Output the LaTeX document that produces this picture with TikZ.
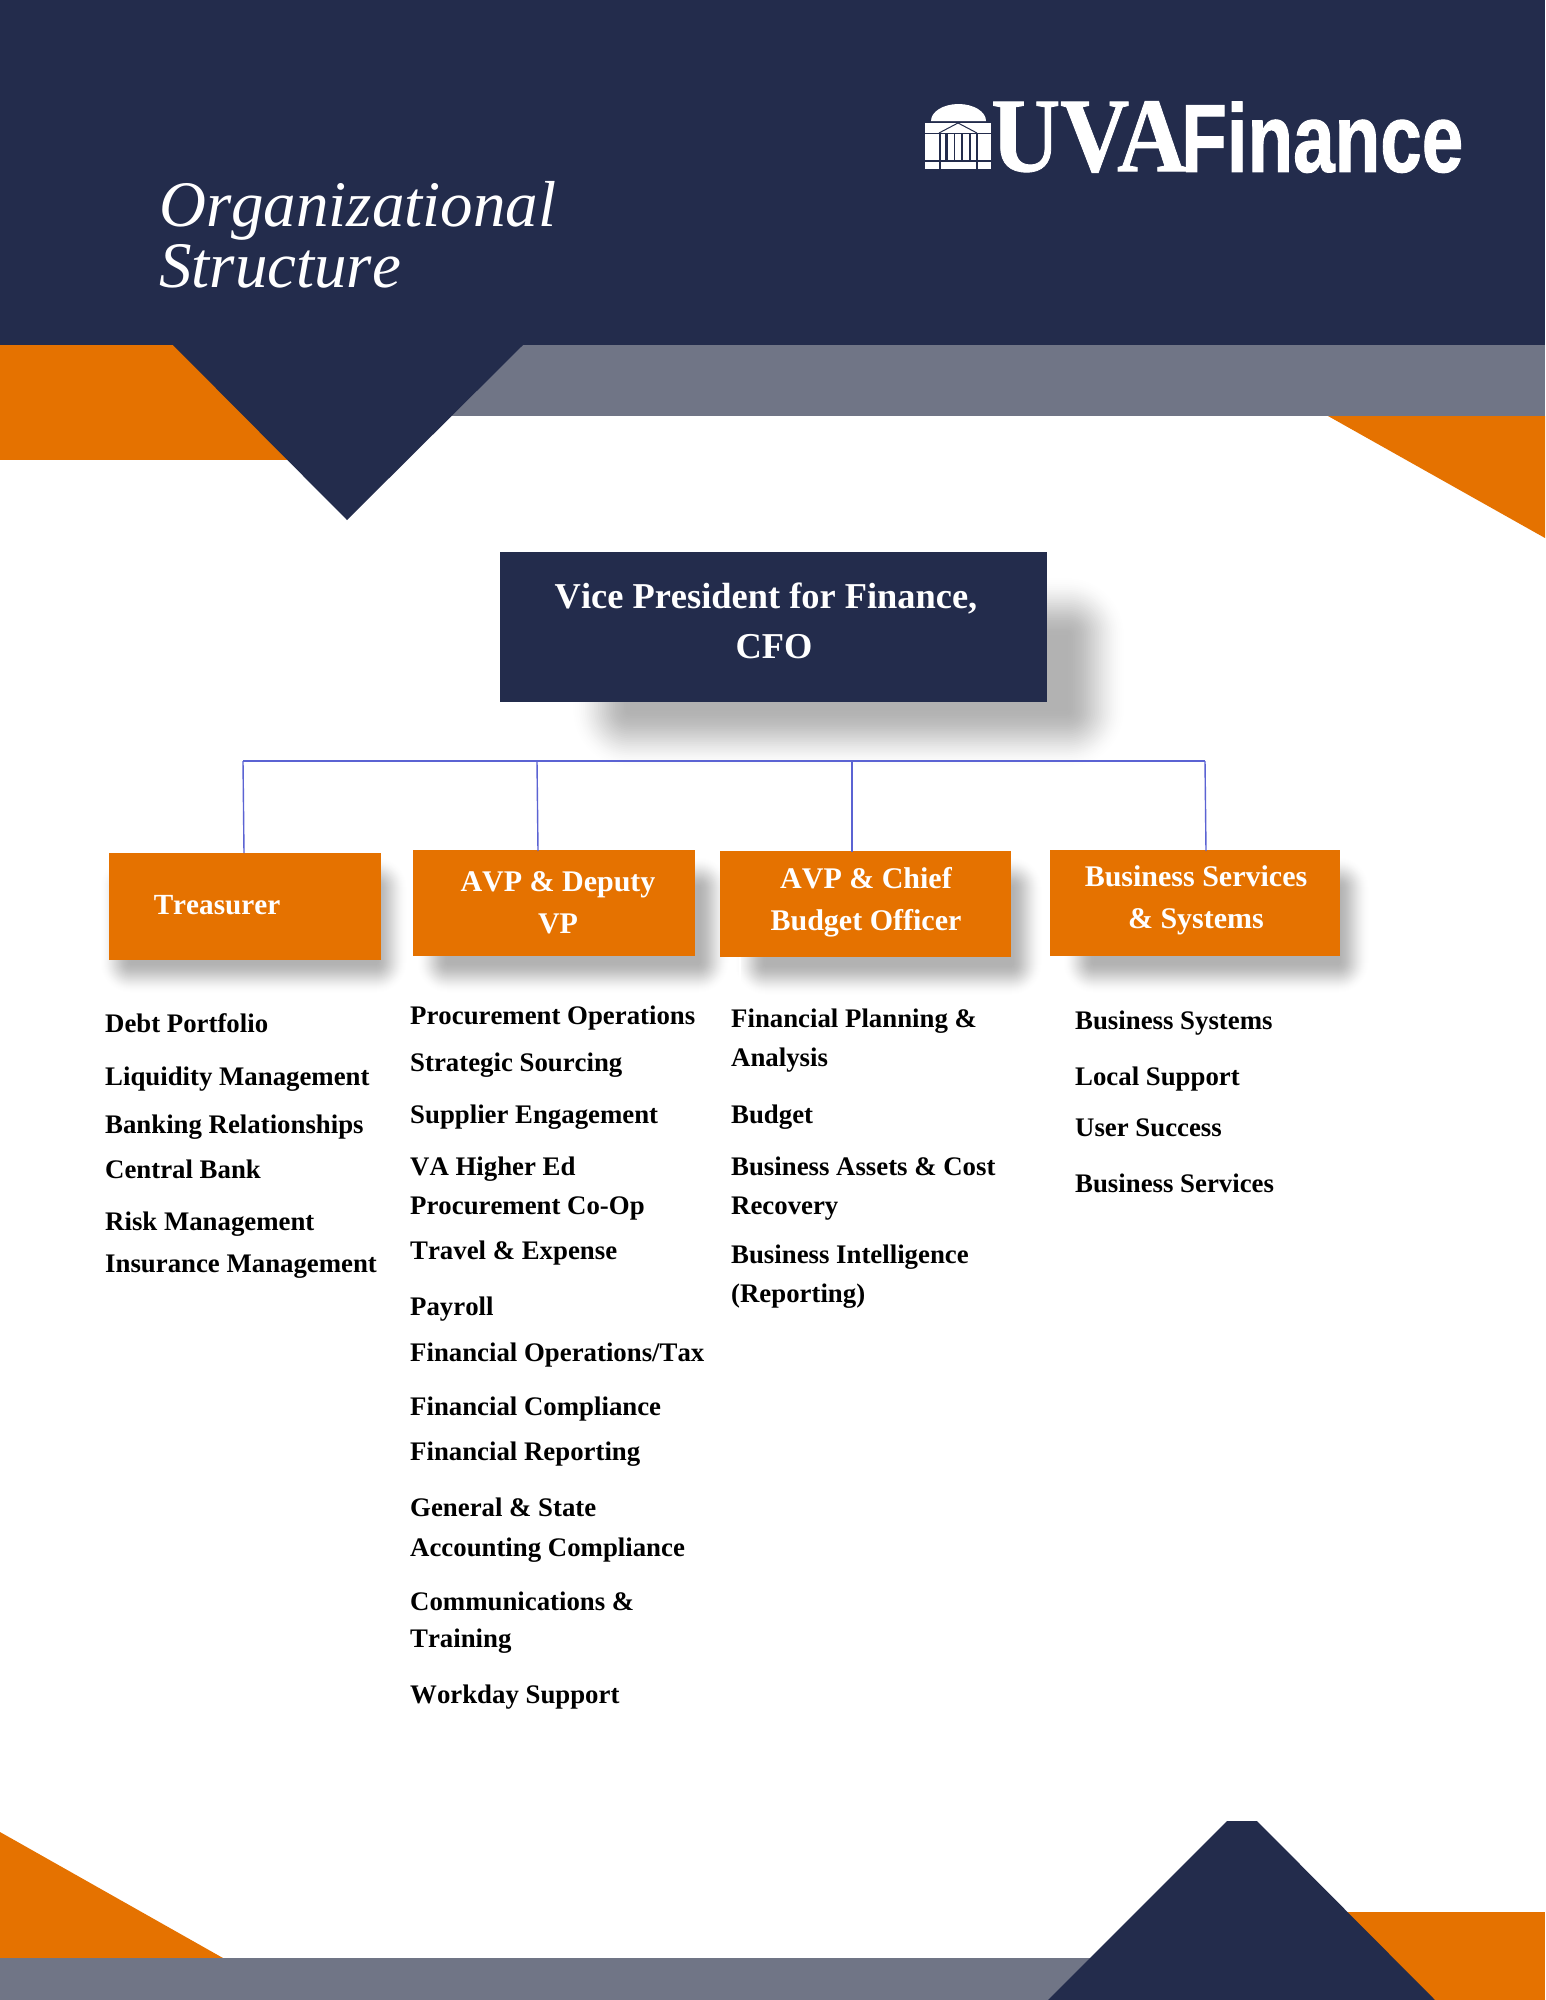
\documentclass[tikz,border=0pt]{standalone}
\usepackage{fontspec}
\setmainfont{Liberation Serif}[Kerning=Off]
\newfontfamily\logosans{Liberation Sans}[FakeBold=1.2]
\newfontfamily\logoserif{Liberation Serif}[Kerning=On,FakeBold=0.8]
\definecolor{navy}{HTML}{232C4C}
\definecolor{uvaorange}{HTML}{E57200}
\definecolor{slategrey}{HTML}{707586}
\definecolor{busblue}{HTML}{5B63D3}
\newcommand{\softshadow}[5]{% x1 y1 x2 y2 radius: opaque nested greys, white to 30% black
  \foreach \k in {0,...,32}{
    \pgfmathsetmacro{\tval}{\k/32}
    \pgfmathsetmacro{\pct}{30*\tval*\tval*(3-2*\tval)}
    \pgfmathsetmacro{\ins}{(\tval-0.5)*2*#5}
    \pgfmathsetmacro{\rc}{max(0.5,(1-\tval)*2*#5)}
    \fill[black!\pct!white,rounded corners=\rc pt] ({#1+\ins},{#2+\ins}) rectangle ({#3-\ins},{#4-\ins});
  }}
\tikzset{
  x=1pt,y=-1pt,
  vpbox/.style={fill=navy,draw=none},
  orgbox/.style={fill=uvaorange,draw=none},
  boxlabel/.style={text=white,font=\bfseries\fontsize{30}{42}\selectfont,align=center,inner sep=0pt},
  vplabel/.style={text=white,font=\bfseries\fontsize{36.4}{50}\selectfont,align=center,inner sep=0pt},
  item/.style={anchor=base west,text=black,font=\bfseries\fontsize{26.8}{31}\selectfont,inner sep=0pt},
  titletext/.style={anchor=base west,text=white,font=\itshape\fontsize{65}{65}\selectfont,inner sep=0pt},
  bus/.style={draw=busblue,line width=1.4pt},
}
\begin{document}
\begin{tikzpicture}
\useasboundingbox (0,0) rectangle (1545,2000);
\fill[white] (0,0) rectangle (1545,2000);
% header
\fill[uvaorange] (0,345) rectangle (300,460);
\fill[slategrey] (440,345) rectangle (1545,416);
\fill[uvaorange] (1328,416) -- (1545,416) -- (1545,538) -- cycle;
\fill[navy] (0,0) rectangle (1545,345);
\fill[navy] (173,345) -- (523,345) -- (347,520) -- cycle;
% footer
\fill[uvaorange] (0,1832) -- (223,1958) -- (223,2000) -- (0,2000) -- cycle;
\fill[slategrey] (0,1958) rectangle (1200,2000);
\fill[uvaorange] (1300,1912) rectangle (1545,2000);
\fill[navy] (1227,1821) -- (1257,1821) -- (1435,2000) -- (1048,2000) -- cycle;
% logo
\fill[white] (931,121) arc[start angle=180,end angle=360,x radius=27.5,y radius=17] -- cycle;
\fill[white] (925,123) rectangle (991,133);
\draw[navy,line width=1pt] (939,133) -- (958,123) -- (977,133);
\fill[white] (925,134) rectangle (938.5,160);
\fill[white] (978,134) rectangle (991,160);
\foreach \a/\b in {940.5/945,948/954,955/961,963/968.5,970.5/976}{\fill[white] (\a,134) rectangle (\b,160);}
\fill[white] (925,162) rectangle (938.5,169);
\fill[white] (940.5,162) rectangle (976,169);
\fill[white] (978,162) rectangle (991,169);
\node[anchor=south west,inner sep=0pt,text=white] (logoUVA) at (991,173) {\resizebox{195pt}{70pt}{\logoserif\bfseries UVA}};
\node[anchor=south west,inner sep=0pt,text=white] (logoFin) at (1181,173) {\resizebox{282pt}{70pt}{\logosans\bfseries Finance}};
% title
\node[titletext] (title1) at (159,226) {Organizational};
\node[titletext] (title2) at (159,287) {Structure};
% shadows
\softshadow{600}{605}{1097}{740}{30}
\softshadow{115}{872}{392}{978}{16}
\softshadow{432}{872}{714}{978}{16}
\softshadow{750}{872}{1027}{980}{16}
\softshadow{1078}{872}{1354}{978}{16}
\draw[white,line width=1.5pt] (740,957) -- (740,1000);
% boxes
\path[vpbox] (500,552) rectangle (1047,702);
\path[orgbox] (109,853) rectangle (381,960);
\path[orgbox] (413,850) rectangle (695,956);
\path[orgbox] (720,851) rectangle (1011,957);
\path[orgbox] (1050,850) rectangle (1340,956);
\coordinate (treasurerTop) at (244,853);
\coordinate (deputyTop) at (538,851);
\coordinate (chiefTop) at (852,852);
\coordinate (bssTop) at (1206,851);
\coordinate (hub1) at (243,761);
\coordinate (hub2) at (537,761);
\coordinate (hub3) at (852,761);
\coordinate (hub4) at (1205,761);
\draw[bus,line width=1.8pt] (hub1) -- (hub4);
\draw[bus] (hub1) -- (treasurerTop);
\draw[bus] (hub2) -- (deputyTop);
\draw[bus] (hub3) -- (chiefTop);
\draw[bus] (hub4) -- (bssTop);
% box labels
\node[vplabel] (vp) at (766,621) {Vice President for Finance,\\\hspace{16pt}CFO};
\node[boxlabel,anchor=base,font=\bfseries\fontsize{29.2}{42}\selectfont] (treasurer) at (217,914) {Treasurer};
\node[boxlabel] (deputy) at (558,903) {AVP \& Deputy\\VP};
\node[boxlabel] (chief) at (866,902) {AVP \& Chief\\Budget Officer};
\node[boxlabel] (bss) at (1196,900) {Business Services\\\& Systems};
% column 1
\node[item] (a1) at (105,1032) {Debt Portfolio};
\node[item] (a2) at (105,1085) {Liquidity Management};
\node[item] (a3) at (105,1133) {Banking Relationships};
\node[item] (a4) at (105,1178) {Central Bank};
\node[item] (a5) at (105,1230) {Risk Management};
\node[item] (a6) at (105,1272) {Insurance Management};
% column 2
\node[item] (b1) at (410,1024) {Procurement Operations};
\node[item] (b2) at (410,1071) {Strategic Sourcing};
\node[item] (b3) at (410,1123) {Supplier Engagement};
\node[item] (b4) at (410,1175) {VA Higher Ed};
\node[item] (b5) at (410,1214) {Procurement Co-Op};
\node[item] (b6) at (410,1259) {Travel \& Expense};
\node[item] (b7) at (410,1315) {Payroll};
\node[item] (b8) at (410,1361) {Financial Operations/Tax};
\node[item] (b9) at (410,1415) {Financial Compliance};
\node[item] (b10) at (410,1460) {Financial Reporting};
\node[item] (b11) at (410,1516) {General \& State};
\node[item] (b12) at (410,1556) {Accounting Compliance};
\node[item] (b13) at (410,1610) {Communications \&};
\node[item] (b14) at (410,1647) {Training};
\node[item] (b15) at (410,1703) {Workday Support};
% column 3
\node[item] (c1) at (731,1027) {Financial Planning \&};
\node[item] (c2) at (731,1066) {Analysis};
\node[item] (c3) at (731,1123) {Budget};
\node[item] (c4) at (731,1175) {Business Assets \& Cost};
\node[item] (c5) at (731,1214) {Recovery};
\node[item] (c6) at (731,1263) {Business Intelligence};
\node[item] (c7) at (731,1302) {(Reporting)};
% column 4
\node[item] (d1) at (1075,1029) {Business Systems};
\node[item] (d2) at (1075,1085) {Local Support};
\node[item] (d3) at (1075,1136) {User Success};
\node[item] (d4) at (1075,1192) {Business Services};
\end{tikzpicture}
\end{document}
